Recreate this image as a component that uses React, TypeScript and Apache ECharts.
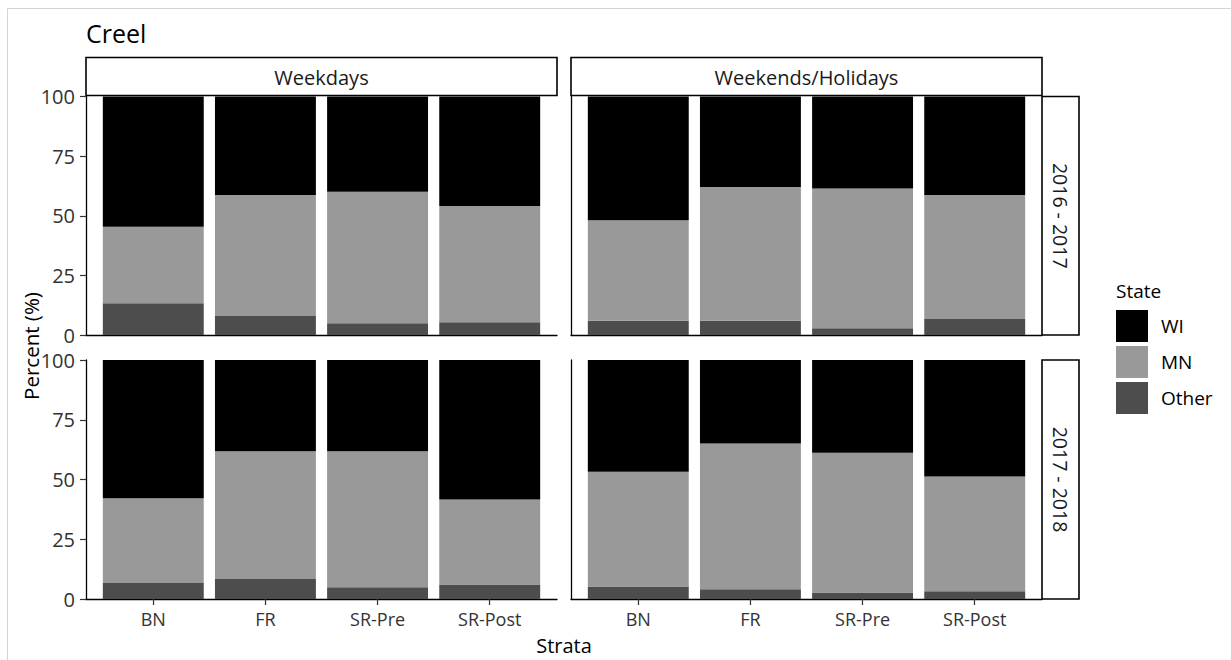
import React, { useEffect, useRef } from "react";
import * as echarts from "echarts";

const strata = ["BN", "FR", "SR-Pre", "SR-Post"];
const dayTypes = ["Weekdays", "Weekends/Holidays"];
const seasons = ["2016 - 2017", "2017 - 2018"];
const states = ["WI", "MN", "Other"];
const yTicks = [0, 25, 50, 75, 100];

// 2016 - 2017, Weekdays
const other1617Wd = [13.3, 8.0, 4.9, 5.3];
const mn1617Wd = [32.1, 50.7, 55.2, 48.8];
const wi1617Wd = [54.6, 41.3, 39.9, 45.9];
// 2016 - 2017, Weekends/Holidays
const other1617We = [6.0, 6.0, 2.8, 6.7];
const mn1617We = [42.1, 56.1, 58.6, 52.0];
const wi1617We = [51.9, 37.9, 38.6, 41.3];
// 2017 - 2018, Weekdays
const other1718Wd = [6.7, 8.4, 4.9, 6.1];
const mn1718Wd = [35.5, 53.4, 56.9, 35.5];
const wi1718Wd = [57.8, 38.2, 38.2, 58.4];
// 2017 - 2018, Weekends/Holidays
const other1718We = [5.2, 4.1, 2.7, 3.2];
const mn1718We = [48.0, 61.0, 58.5, 48.1];
const wi1718We = [46.8, 34.9, 38.8, 48.7];

const panels = [
  { row: 0, col: 0, values: { WI: wi1617Wd, MN: mn1617Wd, Other: other1617Wd } },
  { row: 0, col: 1, values: { WI: wi1617We, MN: mn1617We, Other: other1617We } },
  { row: 1, col: 0, values: { WI: wi1718Wd, MN: mn1718Wd, Other: other1718Wd } },
  { row: 1, col: 1, values: { WI: wi1718We, MN: mn1718We, Other: other1718We } },
];

const colors: Record<string, string> = { WI: "#000000", MN: "#999999", Other: "#4d4d4d" };
const FONT = "'Open Sans', 'Noto Sans', sans-serif";
const TXT = "#333333";

const colLeft = [86, 571];
const rowTop = [96.5, 360];
const panelW = 471;
const panelH = [238.5, 239];
// discrete scale expansion (0.6 units each side over 4 categories)
const unit = panelW / 4.2;

export default function App() {
  const ref = useRef<HTMLDivElement>(null);
  useEffect(() => {
    if (!ref.current) return;
    const chart = echarts.init(ref.current, undefined, { renderer: "svg" });

    const frameGrids = panels.map((p) => ({
      left: colLeft[p.col],
      top: rowTop[p.row],
      width: panelW,
      height: panelH[p.row],
      containLabel: false,
    }));
    const barGrids = panels.map((p) => ({
      left: colLeft[p.col] + unit * 0.1,
      top: rowTop[p.row],
      width: unit * 4,
      height: panelH[p.row],
      containLabel: false,
    }));

    const frameX = panels.map((p, i) => ({
      type: "value",
      gridIndex: i,
      min: 0.4,
      max: 4.6,
      splitLine: { show: false },
      axisLine: { show: true, onZero: false, lineStyle: { color: "#000", width: 1.3 } },
      axisTick: {
        show: p.row === 1,
        customValues: [1, 2, 3, 4],
        length: 6,
        lineStyle: { color: TXT, width: 1.2 },
      },
      axisLabel: {
        show: p.row === 1,
        customValues: [1, 2, 3, 4],
        formatter: (v: number) => strata[Math.round(v) - 1] ?? "",
        fontFamily: FONT,
        fontSize: 18,
        color: TXT,
        margin: 11,
      },
    }));
    const barX = panels.map((p, i) => ({
      type: "category",
      gridIndex: 4 + i,
      data: strata,
      boundaryGap: true,
      axisLine: { show: false },
      axisTick: { show: false },
      axisLabel: { show: false },
      splitLine: { show: false },
    }));

    const frameY = panels.map((p, i) => ({
      type: "value",
      gridIndex: i,
      min: 0,
      max: 100,
      interval: 25,
      splitLine: { show: false },
      axisLine: { show: true, lineStyle: { color: "#000", width: 1.3 } },
      axisTick: { show: p.col === 0, length: 6, lineStyle: { color: TXT, width: 1.2 } },
      axisLabel: {
        show: p.col === 0,
        fontFamily: FONT,
        fontSize: 20,
        color: TXT,
        margin: 11,
        formatter: (v: number) => (yTicks.includes(v) ? String(v) : ""),
      },
    }));
    const barY = panels.map((p, i) => ({
      type: "value",
      gridIndex: 4 + i,
      min: 0,
      max: 100,
      show: false,
      splitLine: { show: false },
    }));

    const series: any[] = [];
    panels.forEach((p, i) => {
      ["Other", "MN", "WI"].forEach((s) => {
        series.push({
          type: "bar",
          name: s,
          xAxisIndex: 4 + i,
          yAxisIndex: 4 + i,
          stack: "panel" + i,
          barWidth: "90%",
          itemStyle: { color: colors[s] },
          data: (p.values as any)[s],
        });
      });
    });

    const graphics: any[] = [];
    graphics.push({
      type: "rect",
      shape: { x: 7.5, y: 8.5, width: 1300, height: 700 },
      style: { fill: "none", stroke: "#d4d4d4", lineWidth: 1 },
      silent: true,
    });
    graphics.push({
      type: "text",
      x: 86,
      y: 33,
      style: { text: "Creel", fontFamily: FONT, fontSize: 25, fill: "#000", textVerticalAlign: "middle" },
    });
    dayTypes.forEach((d, c) => {
      graphics.push({
        type: "rect",
        shape: { x: colLeft[c], y: 57.5, width: panelW, height: 38 },
        style: { fill: "#fff", stroke: "#000", lineWidth: 1.6 },
      });
      graphics.push({
        type: "text",
        x: colLeft[c] + panelW / 2,
        y: 77,
        style: {
          text: d,
          fontFamily: FONT,
          fontSize: 20,
          fill: "#1a1a1a",
          textAlign: "center",
          textVerticalAlign: "middle",
        },
      });
    });
    seasons.forEach((s, r) => {
      const x0 = colLeft[1] + panelW;
      graphics.push({
        type: "rect",
        shape: { x: x0, y: rowTop[r], width: 37, height: panelH[r] },
        style: { fill: "#fff", stroke: "#000", lineWidth: 1.6 },
      });
      graphics.push({
        type: "text",
        x: x0 + 18.5,
        y: rowTop[r] + panelH[r] / 2,
        rotation: -Math.PI / 2,
        style: {
          text: s,
          fontFamily: FONT,
          fontSize: 19.5,
          fill: "#1a1a1a",
          textAlign: "center",
          textVerticalAlign: "middle",
        },
      });
    });
    graphics.push({
      type: "text",
      x: 31,
      y: 346,
      rotation: Math.PI / 2,
      style: {
        text: "Percent (%)",
        fontFamily: FONT,
        fontSize: 20.5,
        fill: "#000",
        textAlign: "center",
        textVerticalAlign: "middle",
      },
    });
    graphics.push({
      type: "text",
      x: 564,
      y: 645,
      style: {
        text: "Strata",
        fontFamily: FONT,
        fontSize: 20,
        fill: "#000",
        textAlign: "center",
        textVerticalAlign: "middle",
      },
    });
    graphics.push({
      type: "text",
      x: 1116,
      y: 291,
      style: { text: "State", fontFamily: FONT, fontSize: 19, fill: "#000", textVerticalAlign: "middle" },
    });

    chart.setOption({
      animation: false,
      backgroundColor: "#fff",
      grid: [...frameGrids, ...barGrids],
      xAxis: [...frameX, ...barX],
      yAxis: [...frameY, ...barY],
      series,
      legend: {
        data: states,
        orient: "vertical",
        left: 1116,
        top: 310,
        padding: 0,
        itemWidth: 32,
        itemHeight: 32,
        itemGap: 4,
        icon: "rect",
        selectedMode: false,
        textStyle: { fontFamily: FONT, fontSize: 19, color: "#000", padding: [0, 0, 0, 8] },
      },
      graphic: graphics,
    });
    return () => chart.dispose();
  }, []);
  return (
    <div
      ref={ref}
      style={{ position: "fixed", left: 0, top: 0, width: 1231, height: 660 }}
    />
  );
}
